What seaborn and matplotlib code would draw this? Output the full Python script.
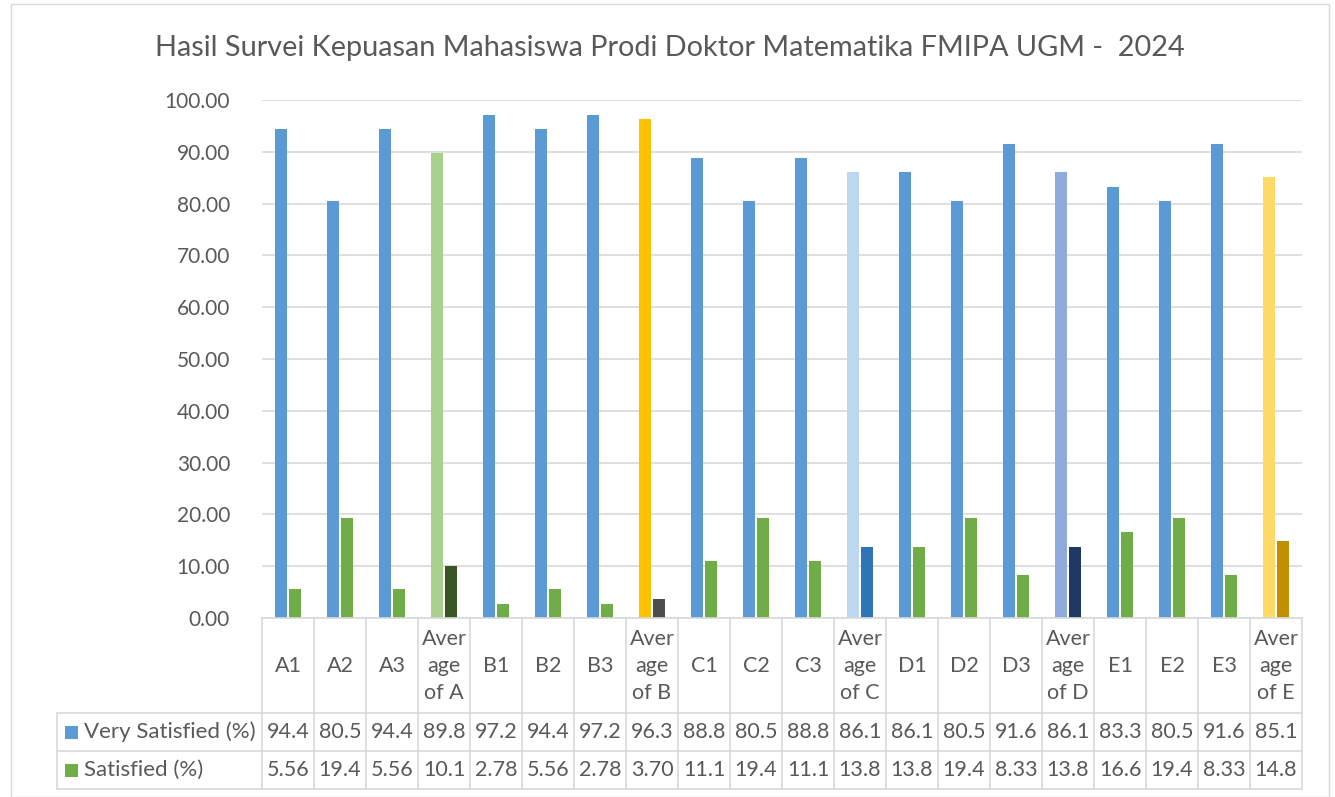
import numpy as np
import matplotlib.pyplot as plt
import matplotlib.transforms as mtransforms
from matplotlib.patches import Rectangle
import seaborn as sns
import pandas as pd

# --- data ---
categories = ["A1", "A2", "A3", "Average of A", "B1", "B2", "B3", "Average of B",
              "C1", "C2", "C3", "Average of C", "D1", "D2", "D3", "Average of D",
              "E1", "E2", "E3", "Average of E"]
cat_labels = ["A1", "A2", "A3", "Aver\nage\nof A", "B1", "B2", "B3", "Aver\nage\nof B",
              "C1", "C2", "C3", "Aver\nage\nof C", "D1", "D2", "D3", "Aver\nage\nof D",
              "E1", "E2", "E3", "Aver\nage\nof E"]
very_satisfied = [94.4, 80.5, 94.4, 89.8, 97.2, 94.4, 97.2, 96.3, 88.8, 80.5,
                  88.8, 86.1, 86.1, 80.5, 91.6, 86.1, 83.3, 80.5, 91.6, 85.1]
satisfied = [5.56, 19.4, 5.56, 10.1, 2.78, 5.56, 2.78, 3.70, 11.1, 19.4,
             11.1, 13.8, 13.8, 19.4, 8.33, 13.8, 16.6, 19.4, 8.33, 14.8]
series_names = ["Very Satisfied (%)", "Satisfied (%)"]
title = "Hasil Survei Kepuasan Mahasiswa Prodi Doktor Matematika FMIPA UGM -  2024"

BLUE = "#5B9BD5"
GREEN = "#70AD47"
# custom colours for the "Average of" bars (very satisfied, satisfied)
avg_colors = {
    "Average of A": ("#A9D18E", "#375623"),
    "Average of B": ("#FFC000", "#4D4D4D"),
    "Average of C": ("#BDD7EE", "#2E75B6"),
    "Average of D": ("#8FAADC", "#203864"),
    "Average of E": ("#FFD966", "#BF9000"),
}
TXT = "#595959"
GRID = "#D9D9D9"

df = pd.DataFrame({
    "cat": categories * 2,
    "value": very_satisfied + satisfied,
    "series": [series_names[0]] * len(categories) + [series_names[1]] * len(categories),
})

sns.set_style("white")
plt.rcParams["font.family"] = ["Lato", "DejaVu Sans"]

W, H = 1335, 797
fig = plt.figure(figsize=(W / 100, H / 100), dpi=100)
fig.patch.set_facecolor("white")

# outer chart border
fig.patches.append(Rectangle((11 / W, 0), 1318 / W, 1 - 4 / H, transform=fig.transFigure,
                             fill=False, edgecolor=GRID, linewidth=1))

x0, x1, y_top, y_bot = 262, 1302, 100, 618
ax = fig.add_axes([x0 / W, 1 - y_bot / H, (x1 - x0) / W, (y_bot - y_top) / H])

sns.barplot(data=df, x="cat", y="value", hue="series", order=categories,
            palette=[BLUE, GREEN], width=0.54, gap=0.15, ax=ax, legend=False,
            saturation=1)

for si, cont in enumerate(ax.containers):
    for cat, bar in zip(categories, cont):
        if cat in avg_colors:
            bar.set_facecolor(avg_colors[cat][si])
        bar.set_edgecolor("none")

ax.set_xlim(-0.5, len(categories) - 0.5)
ax.set_ylim(0, 100)
ax.set_yticks(np.arange(0, 101, 10))
ax.set_yticklabels([f"{v:.2f}" for v in np.arange(0, 101, 10)], fontsize=15, color=TXT)
ax.tick_params(axis="y", length=0, pad=23)
ax.set_xticks([])
ax.set_xlabel("")
ax.set_ylabel("")
ax.grid(axis="y", color=GRID, linewidth=1.2)
ax.set_axisbelow(True)
for s in ["top", "right", "left"]:
    ax.spines[s].set_visible(False)
ax.spines["bottom"].set_color(GRID)
ax.spines["bottom"].set_linewidth(1.2)

fig.suptitle(title, x=670 / W, y=1 - 48 / H, va="center", fontsize=20.8, color=TXT)

# --- data table under the axis ---
tr = mtransforms.blended_transform_factory(ax.transData, fig.transFigure)
trf = fig.transFigure


def fy(py):
    return 1 - py / H


row_tops = [618, 713, 751, 789]
line_kw = dict(color=GRID, linewidth=1.2, clip_on=False)
n = len(categories)
for i in range(n + 1):
    ax.plot([i - 0.5, i - 0.5], [fy(618), fy(789)], transform=tr, **line_kw)
for py in row_tops[1:]:
    fig.add_artist(plt.Line2D([57 / W, x1 / W], [fy(py), fy(py)], transform=trf, **line_kw))
fig.add_artist(plt.Line2D([57 / W, 57 / W], [fy(713), fy(789)], transform=trf, **line_kw))

for i, lab in enumerate(cat_labels):
    ax.text(i, fy(666), lab, transform=tr, ha="center", va="center", fontsize=15.5,
            color=TXT, linespacing=1.45)

rows = [very_satisfied, satisfied]
row_centers = [732, 770]
for si, (vals, yc) in enumerate(zip(rows, row_centers)):
    for i, v in enumerate(vals):
        s = f"{v:.3g}" if v >= 10 else f"{v:.2f}"
        ax.text(i, fy(yc), s, transform=tr, ha="center", va="center", fontsize=15.5,
                color=TXT)
    fig.patches.append(Rectangle((65 / W, fy(yc + 6.5)), 13 / W, 13 / H, transform=trf,
                                 facecolor=[BLUE, GREEN][si], edgecolor="none"))
    fig.text(84 / W, fy(yc), series_names[si], ha="left", va="center", fontsize=16,
             color=TXT)

fig.savefig("out.png", dpi=100)
